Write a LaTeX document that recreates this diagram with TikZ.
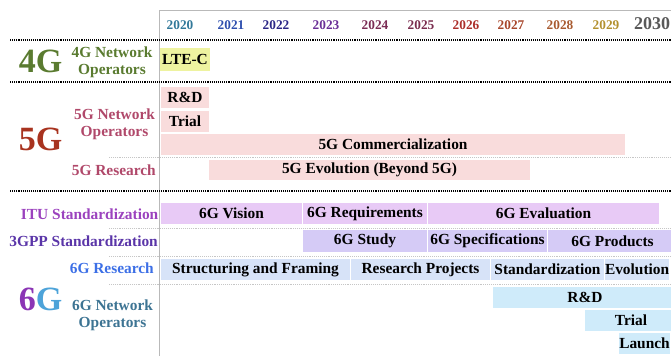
\documentclass[tikz,border=0pt]{standalone}
\usepackage{fontspec}
\setmainfont{Liberation Serif}
\newcommand\barfont{\fontsize{15.4}{17}\selectfont\bfseries}
\newcommand\yearfont{\fontsize{13.3}{15}\selectfont\bfseries}
\newcommand\genfont{\fontsize{34}{36}\selectfont\bfseries}
\definecolor{lteYel}{HTML}{EEF3A0}
\definecolor{pinkFG}{HTML}{F9DCDC}
\definecolor{ituBar}{HTML}{E8CAF6}
\definecolor{gppBar}{HTML}{D5CBF6}
\definecolor{resBar}{HTML}{D7E3F8}
\definecolor{netBar}{HTML}{CFEBFA}
\definecolor{fourG}{HTML}{5A7B30}
\definecolor{fiveG}{HTML}{A8331F}
\definecolor{fiveLbl}{HTML}{B0486A}
\definecolor{ituLbl}{HTML}{9B42BE}
\definecolor{gppLbl}{HTML}{5A35A8}
\definecolor{resLbl}{HTML}{3C6FE6}
\definecolor{netLbl}{HTML}{3D7493}
\definecolor{sixA}{HTML}{8B35B5}
\definecolor{sixB}{HTML}{4DA3D9}
\definecolor{c2020}{HTML}{317899}
\definecolor{c2021}{HTML}{2E4FAE}
\definecolor{c2022}{HTML}{2B2686}
\definecolor{c2023}{HTML}{6A2F97}
\definecolor{c2024}{HTML}{7B2D55}
\definecolor{c2025}{HTML}{7A2D4E}
\definecolor{c2026}{HTML}{AC2E2A}
\definecolor{c2027}{HTML}{A8472C}
\definecolor{c2028}{HTML}{A85A30}
\definecolor{c2029}{HTML}{B3912F}
\definecolor{c2030}{HTML}{595959}
\begin{document}
\begin{tikzpicture}[x=1pt,y=-1pt,
        bar/.style={inner sep=0pt,minimum height=21pt,font=\barfont},
        year/.style={inner sep=0pt,anchor=base,font=\yearfont},
        gen/.style={inner sep=0pt,anchor=base,font=\genfont},
        lbl/.style={inner sep=0pt,font=\barfont,align=center},
        sepline/.style={densely dotted,line width=1.1pt},
        subline/.style={densely dotted,line width=0.9pt,gray!45}
        ]
    \useasboundingbox (0,0) rectangle (671,356);
    \clip (0,0) rectangle (671,356);

    \draw[gray!55,line width=1pt] (159,356) -- (159,10.5) -- (671,10.5);
    \draw[sepline] (10,40) -- (671,40);
    \draw[sepline] (10,82) -- (671,82);
    \draw[sepline] (10,191) -- (671,191);
    \draw[subline] (109,157) -- (671,157);
    \draw[subline] (109,228) -- (671,228);
    \draw[subline] (109,256) -- (671,256);
    \draw[subline] (109,284) -- (671,284);

    \node (y2020) at (180,29) [year,c2020] {2020};
    \node (y2021) at (231,29) [year,c2021] {2021};
    \node (y2022) at (276,29) [year,c2022] {2022};
    \node (y2023) at (326,29) [year,c2023] {2023};
    \node (y2024) at (375,29) [year,c2024] {2024};
    \node (y2025) at (421,29) [year,c2025] {2025};
    \node (y2026) at (466,29) [year,c2026] {2026};
    \node (y2027) at (511,29) [year,c2027] {2027};
    \node (y2028) at (560,29) [year,c2028] {2028};
    \node (y2029) at (606,29) [year,c2029] {2029};
    \node (y2030) at (634,29) [year,anchor=base west,c2030,font=\fontsize{18}{20}\selectfont\bfseries] {2030};

    \node (g4) at (40.5,72.5) [gen,fourG] {4G};
    \node (g5) at (40.5,150) [gen,fiveG] {5G};
    \node (g6) at (40.5,310) [gen] {\textcolor{sixA}{6}\textcolor{sixB}{G}};

    \node (net4) at (112,62) [lbl,fourG] {4G Network\\Operators};
    \node (net5) at (114.5,124) [lbl,fiveLbl] {5G Network\\Operators};
    \node (res5) at (156,175) [lbl,anchor=base east,fiveLbl] {5G Research};
    \node (itu) at (158.5,219) [lbl,anchor=base east,ituLbl] {ITU Standardization};
    \node (gpp) at (158,246) [lbl,anchor=base east,gppLbl] {3GPP Standardization};
    \node (res6) at (154,273) [lbl,anchor=base east,resLbl] {6G Research};
    \node (net6) at (112.5,315) [lbl,netLbl] {6G Network\\Operators};

    \node (lteC) at (185,59.5) [bar,fill=lteYel,minimum width=50pt,minimum height=23pt] {LTE-C};
    \node (rd5) at (185,97.5) [bar,fill=pinkFG,minimum width=48pt] {R\&D};
    \node (trial5) at (185,121) [bar,fill=pinkFG,minimum width=48pt] {Trial};
    \node (comm5) at (393,144.5) [bar,fill=pinkFG,minimum width=464pt] {5G Commercialization};
    \node (evo5) at (369.5,170) [bar,fill=pinkFG,minimum width=321pt,minimum height=20pt] {5G Evolution (Beyond 5G)};

    \node (vision) at (231.5,213.5) [bar,fill=ituBar,minimum width=141pt] {6G Vision};
    \node (req) at (365,213.5) [bar,fill=ituBar,minimum width=124pt] {6G Requirements};
    \node (eval) at (543.5,213.5) [bar,fill=ituBar,minimum width=231pt] {6G Evaluation};
    \node (study) at (365,241) [bar,fill=gppBar,minimum width=124pt,minimum height=22pt] {6G Study};
    \node (spec) at (487.5,241) [bar,fill=gppBar,minimum width=119pt,minimum height=22pt] {6G Specifications};
    \node (prod) at (612.5,241) [bar,fill=gppBar,minimum width=129pt,minimum height=22pt] {6G Products};
    \node (frame) at (255.5,269.5) [bar,fill=resBar,minimum width=189pt] {Structuring and Framing};
    \node (proj) at (420.5,269.5) [bar,fill=resBar,minimum width=139pt] {Research Projects};
    \node (stdz) at (547.5,269.5) [bar,fill=resBar,minimum width=113pt] {Standardization};
    \node (evol) at (637,269.5) [bar,fill=resBar,minimum width=64pt,text width=64pt,align=center] {Evolution};
    \node (rd6) at (585,297.5) [bar,fill=netBar,minimum width=184pt] {R\&D};
    \node (trial6) at (631,320.5) [bar,fill=netBar,minimum width=92pt] {Trial};
    \node (launch) at (644.5,343.5) [bar,fill=netBar,minimum width=51pt] {Launch};
\end{tikzpicture}
\end{document}
